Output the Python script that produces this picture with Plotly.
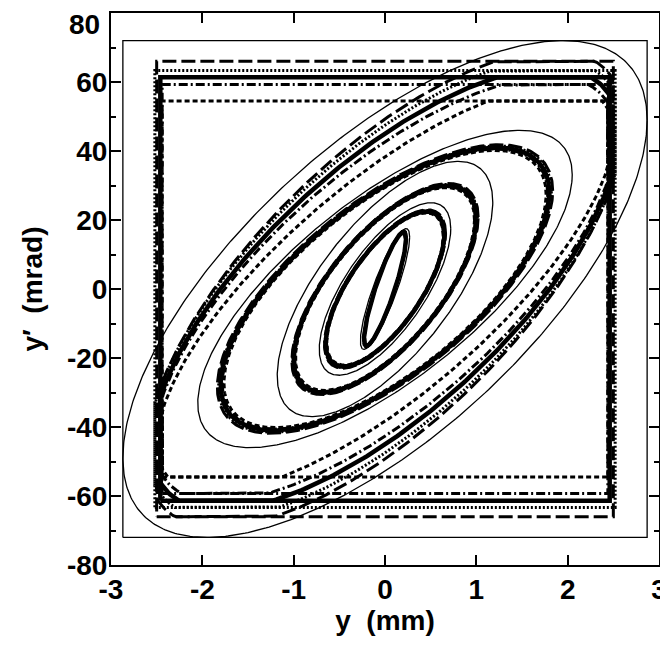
import numpy as np
import plotly.graph_objects as go

# ---- data ----
# aperture boxes (half-width in mm, half-height in mrad) per line style
styles      = ["dashed", "dotted", "solid", "dashdot", "shortdash"]
box_y       = [2.50, 2.52, 2.46, 2.44, 2.44]
box_yp      = [66.0, 63.3, 61.4, 59.3, 54.5]
# outer (clipped) ellipse of each style: max y, max y', correlation
outer_ymax  = [2.62, 2.60, 2.56, 2.53, 2.50]
outer_ypmax = [69.0, 66.5, 64.0, 61.5, 59.0]
outer_corr  = [0.70, 0.70, 0.71, 0.72, 0.76]
# inner ellipses common to all styles (drawn overlapping)
inner_ymax  = [0.23, 0.65, 1.00, 1.80]
inner_ypmax = [16.5, 22.5, 30.0, 41.0]
inner_corr  = [0.88, 0.70, 0.68, 0.68]
style_scale = [1.02, 1.012, 1.0, 0.99, 0.98]
# thin solid reference ellipses
thin_ymax   = [0.27, 0.72, 1.18, 2.05, 2.87]
thin_ypmax  = [17.5, 25.0, 37.0, 46.0, 72.0]
thin_corr   = [0.86, 0.70, 0.68, 0.72, 0.68]
thin_box    = [2.87, 72.0]

x_ticks = [-3, -2, -1, 0, 1, 2, 3]
y_ticks = [-80, -60, -40, -20, 0, 20, 40, 60, 80]

line_styles = {
    "dashed":    dict(color="black", width=3, dash="14px,5px"),
    "dotted":    dict(color="black", width=3, dash="2px,2px"),
    "solid":     dict(color="black", width=4.5, dash="solid"),
    "dashdot":   dict(color="black", width=3, dash="9px,3px,2px,3px"),
    "shortdash": dict(color="black", width=3, dash="5px,3px"),
}
thin_line = dict(color="black", width=1.3)

t = np.linspace(0, 2 * np.pi, 481)


def ellipse(a, b, r, scale=1.0):
    phi = np.arccos(r)
    return a * scale * np.cos(t), b * scale * np.cos(t - phi)


def rect(hx, hy):
    return [-hx, hx, hx, -hx, -hx], [-hy, -hy, hy, hy, -hy]


fig = go.Figure()

# thin reference box and ellipses
bx, by = rect(*thin_box)
fig.add_trace(go.Scatter(x=bx, y=by, mode="lines", line=thin_line))
for a, b, r in zip(thin_ymax, thin_ypmax, thin_corr):
    ex, ey = ellipse(a, b, r)
    fig.add_trace(go.Scatter(x=ex, y=ey, mode="lines", line=thin_line))

for i, s in enumerate(styles):
    ls = line_styles[s]
    bx, by = rect(box_y[i], box_yp[i])
    fig.add_trace(go.Scatter(x=bx, y=by, mode="lines", line=ls))
    ex, ey = ellipse(outer_ymax[i], outer_ypmax[i], outer_corr[i])
    ex = np.clip(ex, -box_y[i], box_y[i])
    ey = np.clip(ey, -box_yp[i], box_yp[i])
    fig.add_trace(go.Scatter(x=ex, y=ey, mode="lines", line=ls))
    for a, b, r in zip(inner_ymax, inner_ypmax, inner_corr):
        ex, ey = ellipse(a, b, r, style_scale[i])
        fig.add_trace(go.Scatter(x=ex, y=ey, mode="lines", line=ls))

font = dict(family="Liberation Sans, Arial, sans-serif", size=28, color="black", weight="bold")

# the top label is drawn as an annotation, nudged down to stay on the page
y_text = ["" if v == y_ticks[-1] else str(v) for v in y_ticks]

fig.update_layout(
    width=660, height=641,
    margin=dict(l=103, r=9, t=5, b=84),
    paper_bgcolor="white", plot_bgcolor="white",
    showlegend=False,
    font=font,
    annotations=[dict(
        text=str(y_ticks[-1]), x=0, xref="paper", y=y_ticks[-1], yref="y",
        xanchor="right", yanchor="middle", xshift=-9, yshift=-11,
        showarrow=False, font=font,
    )],
)
fig.update_xaxes(
    range=[-3, 3], tickvals=x_ticks, ticktext=[str(v) for v in x_ticks],
    ticks="inside", ticklen=10, tickwidth=2, tickcolor="black",
    showline=True, linewidth=2, linecolor="black", mirror="ticks",
    showgrid=False, zeroline=False, tickfont=font, automargin=False,
    ticklabelstandoff=-2,
    title=dict(text="y  (mm)", font=font, standoff=6),
)
fig.update_yaxes(
    range=[-80, 80], tickvals=y_ticks, ticktext=y_text,
    ticks="inside", ticklen=10, tickwidth=2, tickcolor="black",
    minor=dict(ticks="inside", ticklen=5, tickwidth=1.5, tickcolor="black", dtick=10, tick0=0),
    showline=True, linewidth=2, linecolor="black", mirror="ticks",
    showgrid=False, zeroline=False, tickfont=font, automargin=False,
    ticklabelstandoff=-4,
    title=dict(text="y\u2032  (mrad)", font=font, standoff=16),
)

fig.write_html("out.html")
